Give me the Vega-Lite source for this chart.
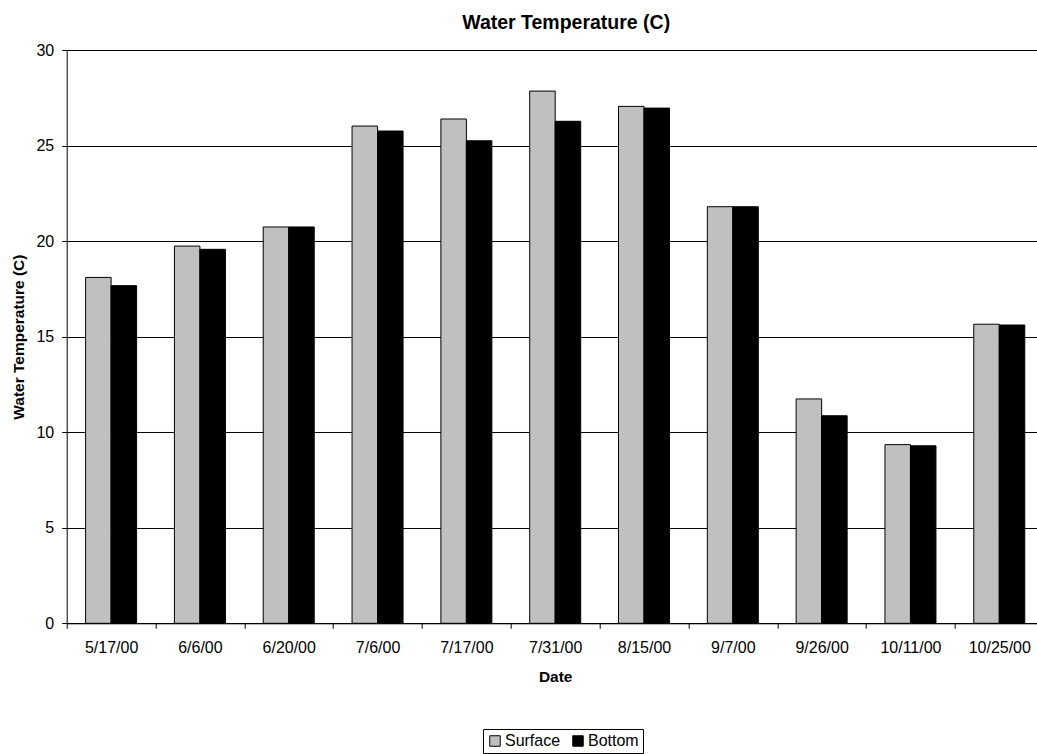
{
  "$schema": "https://vega.github.io/schema/vega-lite/v6.json",
  "autosize": {"type": "none"},
  "padding": {"left": 66.7, "top": 50, "right": -7, "bottom": 130.7},
  "width": 977,
  "height": 573.3,
  "background": "white",
  "config": {
    "font": "Liberation Sans",
    "view": {"stroke": null}
  },
  "title": {
    "text": "Water Temperature (C)",
    "font": "Liberation Sans",
    "fontSize": 19.5,
    "fontWeight": "bold",
    "color": "black",
    "anchor": "middle",
    "frame": "group",
    "baseline": "alphabetic",
    "offset": 22,
    "dx": 11,
    "dy": 28
  },
  "data": {
    "values": [
      {"date": "5/17/00", "series": "Surface", "temp": 18.1},
      {"date": "5/17/00", "series": "Bottom", "temp": 17.67},
      {"date": "6/6/00", "series": "Surface", "temp": 19.74},
      {"date": "6/6/00", "series": "Bottom", "temp": 19.57},
      {"date": "6/20/00", "series": "Surface", "temp": 20.74},
      {"date": "6/20/00", "series": "Bottom", "temp": 20.74},
      {"date": "7/6/00", "series": "Surface", "temp": 26.02},
      {"date": "7/6/00", "series": "Bottom", "temp": 25.76},
      {"date": "7/17/00", "series": "Surface", "temp": 26.39},
      {"date": "7/17/00", "series": "Bottom", "temp": 25.25},
      {"date": "7/31/00", "series": "Surface", "temp": 27.85},
      {"date": "7/31/00", "series": "Bottom", "temp": 26.27},
      {"date": "8/15/00", "series": "Surface", "temp": 27.05},
      {"date": "8/15/00", "series": "Bottom", "temp": 26.96},
      {"date": "9/7/00", "series": "Surface", "temp": 21.8},
      {"date": "9/7/00", "series": "Bottom", "temp": 21.8},
      {"date": "9/26/00", "series": "Surface", "temp": 11.74},
      {"date": "9/26/00", "series": "Bottom", "temp": 10.86},
      {"date": "10/11/00", "series": "Surface", "temp": 9.35},
      {"date": "10/11/00", "series": "Bottom", "temp": 9.29},
      {"date": "10/25/00", "series": "Surface", "temp": 15.65},
      {"date": "10/25/00", "series": "Bottom", "temp": 15.61}
    ]
  },
  "mark": {"type": "bar", "stroke": "black", "strokeWidth": 1},
  "encoding": {
    "x": {
      "field": "date",
      "type": "nominal",
      "sort": null,
      "scale": {"paddingInner": 0, "paddingOuter": 0},
      "axis": {
        "title": "Date",
        "labelAngle": 0,
        "labelFont": "Liberation Sans",
        "labelFontSize": 16,
        "labelColor": "black",
        "labelPadding": 11,
        "titleFont": "Liberation Sans",
        "titleFontSize": 15.5,
        "titleFontWeight": "bold",
        "titleColor": "black",
        "titlePadding": 14,
        "tickBand": "extent",
        "tickSize": 5,
        "tickColor": "black",
        "domainColor": "black",
        "grid": false
      }
    },
    "xOffset": {
      "field": "series",
      "type": "nominal",
      "sort": ["Surface", "Bottom"],
      "scale": {"paddingInner": 0, "paddingOuter": 0.7416}
    },
    "y": {
      "field": "temp",
      "type": "quantitative",
      "scale": {"domain": [0, 30], "nice": false},
      "axis": {
        "title": "Water Temperature (C)",
        "values": [0, 5, 10, 15, 20, 25, 30],
        "labelFont": "Liberation Sans",
        "labelFontSize": 16,
        "labelColor": "black",
        "labelPadding": 8,
        "titleFont": "Liberation Sans",
        "titleFontSize": 15.5,
        "titleFontWeight": "bold",
        "titleColor": "black",
        "titlePadding": 9,
        "tickSize": 5,
        "tickColor": "black",
        "domainColor": "black",
        "grid": true,
        "gridColor": "black",
        "gridWidth": 1,
        "gridOpacity": 1
      }
    },
    "color": {
      "field": "series",
      "type": "nominal",
      "sort": ["Surface", "Bottom"],
      "scale": {"domain": ["Surface", "Bottom"], "range": ["#C0C0C0", "#000000"]},
      "legend": {
        "title": null,
        "orient": "none",
        "legendX": 416.3,
        "legendY": 679,
        "direction": "horizontal",
        "symbolType": "square",
        "symbolSize": 110,
        "symbolStrokeColor": "black",
        "symbolStrokeWidth": 1,
        "labelFont": "Liberation Sans",
        "labelFontSize": 16,
        "labelColor": "black",
        "labelOffset": 2,
        "columnPadding": 9,
        "padding": 4,
        "strokeColor": "black",
        "fillColor": "white"
      }
    }
  }
}
